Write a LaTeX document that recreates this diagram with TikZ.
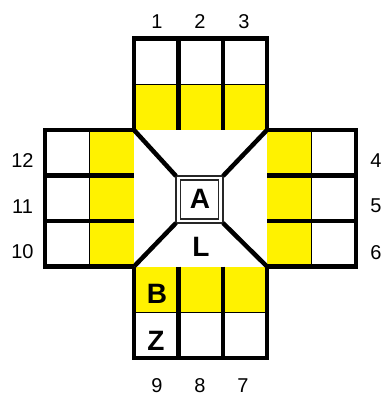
\documentclass[tikz,border=0pt]{standalone}
\usepackage{fontspec}
\setmainfont{Liberation Sans}
\begin{document}
\begin{tikzpicture}[x=1pt,y=-1pt,
  heavy/.style={line width=4.5pt, line join=miter},
  light/.style={line width=1pt},
  boxline/.style={line width=1.1pt, draw=black!85},
  numlabel/.style={anchor=base, inner sep=0pt, font=\fontsize{20}{24}\selectfont},
  letter/.style={anchor=base, inner sep=0pt, font=\fontsize{28}{30}\selectfont\bfseries},
  cellfill/.style={fill=yellow}]
\useasboundingbox (0,0) rectangle (382,396);
% yellow lanes
\fill[cellfill] (134,84) rectangle (267,130);
\fill[cellfill] (89.5,130) rectangle (134,266.5);
\fill[cellfill] (267,130) rectangle (311.5,266.5);
\fill[cellfill] (134,266.5) rectangle (267,312);
% thin separators
\draw[light] (134,84) -- (267,84);
\draw[light] (134,312) -- (267,312);
\draw[light] (89.5,130) -- (89.5,266.5);
\draw[light] (311.5,130) -- (311.5,266.5);
% top arm
\draw[heavy] (134,130) -- (134,38.5) -- (267,38.5) -- (267,130);
\draw[heavy] (178.5,38.5) -- (178.5,130) (223,38.5) -- (223,130);
% bottom arm
\draw[heavy] (134,266.5) -- (134,358) -- (267,358) -- (267,266.5);
\draw[heavy] (178.5,266.5) -- (178.5,358) (223,266.5) -- (223,358);
% left arm
\draw[heavy] (134,130) -- (45,130) -- (45,266.5) -- (134,266.5);
\draw[heavy] (45,175.5) -- (134,175.5) (45,221) -- (134,221);
% right arm
\draw[heavy] (267,130) -- (356,130) -- (356,266.5) -- (267,266.5);
\draw[heavy] (267,175.5) -- (356,175.5) (267,221) -- (356,221);
% centre box
\draw[boxline] (176,176) rectangle (223,223);
\draw[boxline] (180.5,180) rectangle (218.5,219);
% diagonals
\draw[heavy] (134,130) -- (176,176);
\draw[heavy] (267,130) -- (223,176);
\draw[heavy] (134,266.5) -- (176,223);
\draw[heavy] (267,266.5) -- (223,223);
% letters
\node[letter] (A) at (200,208) {A};
\node[letter] (L) at (201,256) {L};
\node[letter] (B) at (157,303) {B};
\node[letter] (Z) at (156,350) {Z};
% numbers
\node[numlabel] (n1) at (157,29) {1};
\node[numlabel] (n2) at (200,29) {2};
\node[numlabel] (n3) at (244,29) {3};
\node[numlabel] (n4) at (376,167) {4};
\node[numlabel] (n5) at (376,212) {5};
\node[numlabel] (n6) at (376,259) {6};
\node[numlabel] (n7) at (243,392) {7};
\node[numlabel] (n8) at (200,392) {8};
\node[numlabel] (n9) at (157,392) {9};
\node[numlabel] (n10) at (22.5,258) {10};
\node[numlabel] (n11) at (22.5,213) {11};
\node[numlabel] (n12) at (22.5,167) {12};
\end{tikzpicture}
\end{document}
